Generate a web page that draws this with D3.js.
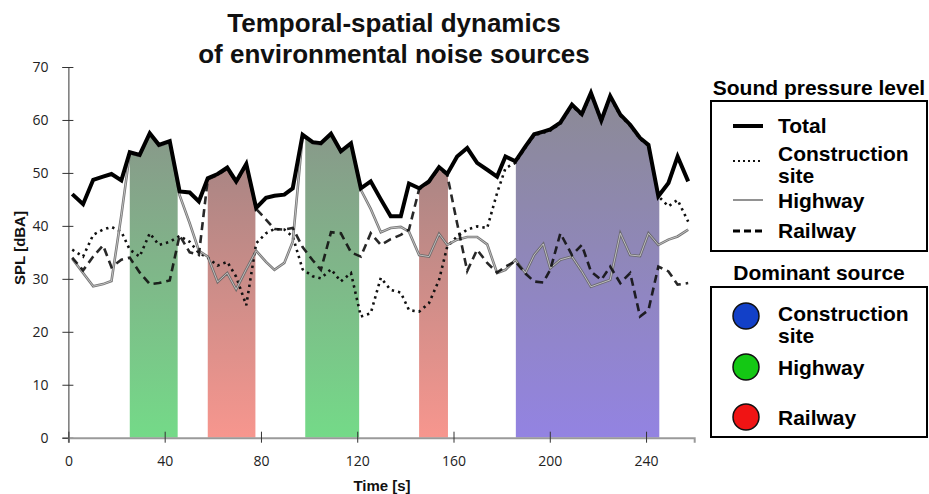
<!DOCTYPE html>
<html><head><meta charset="utf-8">
<script src="https://cdn.jsdelivr.net/npm/d3@7"></script>
<style>body{margin:0;background:#fff}svg{display:block}</style>
</head><body>
<svg id="c" width="929" height="494"></svg>
<script>
const times = [1.6,6.1,10.3,14.4,17.9,22.0,25.5,29.6,33.8,37.6,42.1,46.2,50.4,54.2,57.9,62.0,66.0,69.7,73.9,78.0,82.1,85.6,89.7,93.2,97.3,101.5,104.9,109.1,113.2,117.4,121.5,125.6,129.8,133.9,138.1,141.5,145.7,149.8,154.0,157.4,161.5,165.7,169.8,174.0,178.1,181.6,185.7,189.9,193.5,197.3,200.2,204.4,209.2,213.3,217.1,221.4,225.1,229.3,233.4,237.5,241.0,245.1,249.3,253.1,257.5];
const total = [46.0,44.1,48.7,49.3,49.8,48.6,53.9,53.4,57.5,55.3,56.0,46.5,46.3,44.6,49.0,49.8,51.0,48.4,51.7,43.4,45.3,45.7,45.9,47.1,57.2,55.8,55.6,57.4,54.1,55.6,47.1,48.4,45.0,41.8,41.8,48.0,47.1,48.4,51.1,49.8,53.1,54.7,51.9,50.6,49.3,53.1,52.2,55.0,57.3,57.8,58.2,59.5,62.9,61.1,65.1,59.9,64.5,61.0,59.1,56.6,55.3,45.6,48.1,53.1,48.4];
const construction = [35.5,34.2,38.3,39.3,39.8,38.9,35.5,34.2,38.6,36.4,37.0,38.1,37.0,34.9,34.0,32.5,33.2,30.4,25.0,36.7,38.6,39.4,39.3,38.0,31.8,30.5,30.1,31.8,29.5,31.1,22.9,23.5,30.2,27.9,27.4,24.1,23.8,25.4,29.8,36.1,38.0,39.3,39.9,39.6,46.2,50.9,51.9,54.8,57.1,57.6,58.0,59.3,62.7,60.9,64.9,59.7,64.3,60.8,58.9,56.4,55.1,45.6,43.7,44.9,40.8];
const highway = [33.8,31.1,28.6,29.0,29.6,42.0,53.7,53.2,57.3,55.1,55.8,45.8,40.5,35.3,34.2,29.4,31.1,28.0,31.8,35.3,33.2,31.7,33.0,37.0,57.0,55.6,55.4,57.2,53.9,55.4,46.8,43.2,38.8,39.6,39.8,38.9,34.5,34.2,38.5,36.4,37.4,37.9,37.9,36.5,31.1,31.7,33.6,31.1,34.5,36.6,32.0,33.6,34.2,31.4,28.5,29.2,29.8,38.6,34.5,34.3,38.6,36.4,37.4,38.0,39.3];
const railway = [34.0,31.6,34.2,36.3,32.2,33.6,34.0,31.2,29.0,29.2,29.7,38.2,35.0,34.5,48.8,49.6,50.8,48.2,51.5,43.2,41.2,39.4,39.3,39.6,36.0,33.5,31.7,38.8,38.6,35.0,34.2,38.6,36.4,37.5,38.3,39.3,46.9,48.2,50.9,49.6,40.5,31.5,35.5,33.0,31.2,32.3,33.3,31.0,29.5,29.3,31.7,38.6,34.5,36.4,31.4,29.8,32.3,29.2,31.1,22.9,24.1,32.3,31.4,28.9,29.2];

const regionStart = [25.5,57.9,98.4,145.7,185.9];
const regionEnd = [45.4,77.7,120.8,157.7,245.5];
const regionSource = ["Highway","Railway","Highway","Railway","Construction site"];

const xTicks = [0,40,80,120,160,200,240];
const yTicks = [0,10,20,30,40,50,60,70];

const sourceNames = ["Construction site","Highway","Railway"];
const sourceColors = ["#1240c8","#14c814","#f01414"];
const gradBottom = {"Construction site":"#9383e2","Highway":"#74da88","Railway":"#f7968e"};
const gradTop = {"Construction site":"#8c8a98","Highway":"#8a948a","Railway":"#9a8282"};

const svg = d3.select("#c");
const x = d3.scaleLinear().domain([0,260]).range([68.4,694.2]);
const y = d3.scaleLinear().domain([0,70]).range([437.7,67]);
const pts = k => times.map((t,i)=>[t,k[i]]);

const defs = svg.append("defs");
sourceNames.forEach((s,i)=>{
  const g = defs.append("linearGradient").attr("id","g"+i).attr("gradientUnits","userSpaceOnUse")
    .attr("x1",0).attr("x2",0).attr("y1",y(0)).attr("y2",y(62));
  g.append("stop").attr("offset",0).attr("stop-color",gradBottom[s]);
  g.append("stop").attr("offset",1).attr("stop-color",gradTop[s]);
});
regionStart.forEach((s,i)=>{
  defs.append("clipPath").attr("id","r"+i).append("rect")
    .attr("x",x(s)).attr("width",x(regionEnd[i])-x(s)).attr("y",0).attr("height",y(0));
});

const area = d3.area().x(d=>x(d[0])).y0(y(0)).y1(d=>y(d[1]));
regionStart.forEach((s,i)=>{
  svg.append("path").datum(pts(total)).attr("d",area)
    .attr("clip-path","url(#r"+i+")")
    .attr("fill","url(#g"+sourceNames.indexOf(regionSource[i])+")");
});

// axes
const ya = svg.append("g").attr("transform",`translate(${x(0)},0)`)
  .call(d3.axisLeft(y).tickValues(yTicks).tickSize(6).tickPadding(14));
ya.select(".domain").attr("stroke","#333");
ya.selectAll(".tick line").attr("x1",5).attr("stroke","#333");
ya.selectAll("text").attr("font-family","Open Sans").attr("font-size",14).attr("fill","#222");

const xa = svg.append("g").attr("transform",`translate(0,${y(0)})`)
  .call(d3.axisBottom(x).tickValues(xTicks).tickSize(5).tickPadding(13));
xa.select(".domain").attr("stroke","#9a9a9a").attr("stroke-width",2);
xa.selectAll(".tick line").attr("y1",-6).attr("stroke","#333");
xa.selectAll("text").attr("font-family","Open Sans").attr("font-size",14).attr("fill","#222");

const line = d3.line().x(d=>x(d[0])).y(d=>y(d[1]));
svg.append("path").datum(pts(construction)).attr("d",line).attr("fill","none")
  .attr("stroke","#111").attr("stroke-width",2.6).attr("stroke-dasharray","2.4,4");
svg.append("path").datum(pts(highway)).attr("d",line).attr("fill","none")
  .attr("stroke","#666").attr("stroke-width",2.6).attr("stroke-opacity",0.9);
svg.append("path").datum(pts(highway)).attr("d",line).attr("fill","none")
  .attr("stroke","#ddd").attr("stroke-width",0.9).attr("stroke-opacity",0.8);
svg.append("path").datum(pts(railway)).attr("d",line).attr("fill","none")
  .attr("stroke","#111").attr("stroke-width",2.6).attr("stroke-dasharray","8,5").attr("stroke-opacity",0.9);
svg.append("path").datum(pts(total)).attr("d",line).attr("fill","none")
  .attr("stroke","#000").attr("stroke-width",4).attr("stroke-linejoin","miter");

// titles
const tt = svg.append("text").attr("x",394).attr("font-family","Liberation Sans, Arial").attr("font-weight","bold")
  .attr("font-size",26).attr("text-anchor","middle").attr("fill","#111");
tt.append("tspan").attr("x",394).attr("y",32).text("Temporal-spatial dynamics");
tt.append("tspan").attr("x",394).attr("y",63).text("of environmental noise sources");

svg.append("text").attr("transform","translate(25,248) rotate(-90)").attr("text-anchor","middle")
  .attr("font-family","Liberation Sans, Arial").attr("font-weight","bold").attr("font-size",15).attr("fill","#111")
  .text("SPL [dBA]");
svg.append("text").attr("x",382).attr("y",491).attr("text-anchor","middle")
  .attr("font-family","Liberation Sans, Arial").attr("font-weight","bold").attr("font-size",15).attr("fill","#111")
  .text("Time [s]");

// legends
const LF = "Liberation Sans, Arial";
const lt = (tx,ty,txt,anchor)=>svg.append("text").attr("x",tx).attr("y",ty).attr("text-anchor",anchor||"start")
  .attr("font-family",LF).attr("font-weight","bold").attr("font-size",21).attr("fill","#000").text(txt);
lt(819,95,"Sound pressure level","middle");
svg.append("rect").attr("x",711).attr("y",101).attr("width",216).attr("height",150)
  .attr("fill","none").attr("stroke","#000").attr("stroke-width",2);
lt(778,133,"Total");
lt(778,161,"Construction");
lt(778,183,"site");
lt(778,208,"Highway");
lt(778,238,"Railway");
svg.append("line").attr("x1",733).attr("x2",763).attr("y1",126).attr("y2",126).attr("stroke","#000").attr("stroke-width",4);
svg.append("line").attr("x1",733).attr("x2",763).attr("y1",161).attr("y2",161).attr("stroke","#111").attr("stroke-width",2).attr("stroke-dasharray","2,3");
svg.append("line").attr("x1",733).attr("x2",763).attr("y1",200).attr("y2",200).attr("stroke","#777").attr("stroke-width",1.6);
svg.append("line").attr("x1",733).attr("x2",763).attr("y1",231).attr("y2",231).attr("stroke","#000").attr("stroke-width",3).attr("stroke-dasharray","7,4");

lt(819,280,"Dominant source","middle");
svg.append("rect").attr("x",711).attr("y",287).attr("width",216).attr("height",150)
  .attr("fill","none").attr("stroke","#000").attr("stroke-width",2);
const cy = [316,367,417];
sourceNames.forEach((s,i)=>{
  svg.append("circle").attr("cx",746).attr("cy",cy[i]).attr("r",13).attr("fill",sourceColors[i])
    .attr("stroke","#111").attr("stroke-width",1.5);
});
lt(778,321,"Construction");
lt(778,343,"site");
lt(778,375,"Highway");
lt(778,425,"Railway");
</script>
</body></html>
